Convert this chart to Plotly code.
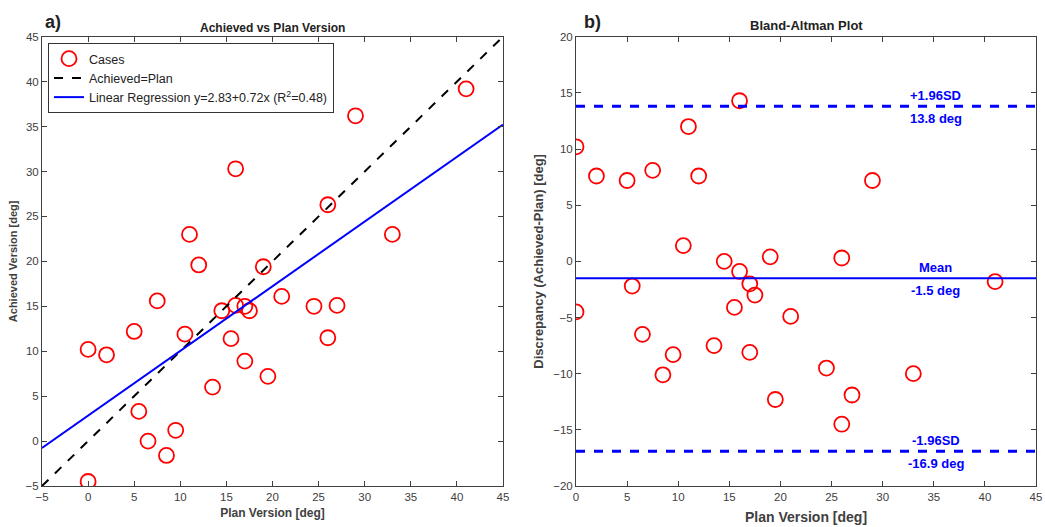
import plotly.graph_objects as go

# ---- data ----
plan = [29, 41, 16, 26, 11, 33, 12, 19, 7.5, 21, 24.5, 27, 14.5, 16, 17, 17.5,
        5, 10.5, 0, 2, 15.5, 26, 17, 19.5, 13.5, 5.5, 9.5, 6.5, 8.5, 0]
achieved = [36.2, 39.2, 30.3, 26.3, 23, 23, 19.6, 19.4, 15.6, 16.1, 15, 15.1, 14.5, 15.1, 15, 14.5,
            12.2, 11.9, 10.2, 9.6, 11.4, 11.5, 8.9, 7.2, 6.0, 3.3, 1.2, 0, -1.6, -4.5]
discrepancy = [7.2, -1.8, 14.3, 0.3, 12, -10, 7.6, 0.4, 8.1, -4.9, -9.5, -11.9, 0, -0.9, -2, -3,
               7.2, 1.4, 10.2, 7.6, -4.1, -14.5, -8.1, -12.3, -7.5, -2.2, -8.3, -6.5, -10.1, -4.5]
reg_intercept = 2.83
reg_slope = 0.72
reg_r2 = 0.48
mean_disc = -1.5
upper_loa = 13.8
lower_loa = -16.9
left_range = [-5, 45]
right_x_range = [0, 45]
right_y_range = [-20, 20]

FONT = "Arial, Liberation Sans, sans-serif"
AX = "#404040"
W, H = 1045, 527

fig = go.Figure()

# left panel
fig.add_trace(go.Scatter(x=plan, y=achieved, mode="markers", name="Cases",
                         marker=dict(symbol="circle-open", size=15, color="red", line=dict(width=1.8, color="red")),
                         xaxis="x", yaxis="y"))
fig.add_trace(go.Scatter(x=left_range, y=left_range, mode="lines", name="Achieved=Plan",
                         line=dict(color="black", dash="dash", width=2), xaxis="x", yaxis="y"))
fig.add_trace(go.Scatter(x=left_range, y=[reg_intercept + reg_slope * v for v in left_range], mode="lines",
                         name=f"Linear Regression y={reg_intercept}+{reg_slope}x (R<sup>2</sup>={reg_r2})",
                         line=dict(color="blue", width=2), xaxis="x", yaxis="y"))

# right panel
fig.add_trace(go.Scatter(x=plan, y=discrepancy, mode="markers", showlegend=False,
                         marker=dict(symbol="circle-open", size=15, color="red", line=dict(width=1.8, color="red")),
                         xaxis="x2", yaxis="y2"))
fig.add_trace(go.Scatter(x=right_x_range, y=[mean_disc, mean_disc], mode="lines", showlegend=False,
                         line=dict(color="blue", width=2), xaxis="x2", yaxis="y2"))
for v in (upper_loa, lower_loa):
    fig.add_trace(go.Scatter(x=right_x_range, y=[v, v], mode="lines", showlegend=False,
                             line=dict(color="blue", width=3, dash="dash"), xaxis="x2", yaxis="y2"))

xL = [42 / W, 503 / W]
xR = [576 / W, 1036 / W]
yD = [1 - 486 / H, 1 - 36.7 / H]

def axis(rng, dom, anchor, dtick, title, tsize, standoff):
    return dict(range=rng, domain=dom, anchor=anchor, dtick=dtick, tick0=0, automargin=False,
                showline=True, linecolor=AX, linewidth=1, mirror="ticks",
                ticks="inside", ticklen=5, tickcolor=AX, showgrid=False, zeroline=False,
                tickfont=dict(family=FONT, size=11.5, color=AX),
                title=dict(text=title, font=dict(family=FONT, size=tsize, color=AX, weight="bold"), standoff=standoff))

fig.update_layout(
    width=W, height=H, margin=dict(l=0, r=0, t=0, b=0, autoexpand=False),
    paper_bgcolor="white", plot_bgcolor="white",
    xaxis=axis(left_range, xL, "y", 5, "Plan Version [deg]", 12, 6),
    yaxis=axis(left_range, yD, "x", 5, "Achieved Version [deg]", 11, 5),
    xaxis2=axis(right_x_range, xR, "y2", 5, "Plan Version [deg]", 14, 10),
    yaxis2=axis(right_y_range, yD, "x2", 5, "Discrepancy (Achieved-Plan) [deg]", 13, 6),
    legend=dict(x=48 / W, y=1 - 43 / H, xanchor="left", yanchor="top",
                bgcolor="white", bordercolor="#333333", borderwidth=1, itemwidth=30,
                font=dict(family=FONT, size=12.5, color="#222"), tracegroupgap=0),
    showlegend=True,
)

ann = [
    dict(text="Achieved vs Plan Version", x=(xL[0] + xL[1]) / 2, y=1 - 28 / H, xref="paper", yref="paper",
         xanchor="center", yanchor="middle", showarrow=False,
         font=dict(family=FONT, size=12, color="#222", weight="bold")),
    dict(text="Bland-Altman Plot", x=(xR[0] + xR[1]) / 2, y=1 - 26 / H, xref="paper", yref="paper",
         xanchor="center", yanchor="middle", showarrow=False,
         font=dict(family=FONT, size=13, color="#222", weight="bold")),
    dict(text="a)", x=43 / W, y=1 - 22 / H, xref="paper", yref="paper", xanchor="left", yanchor="middle",
         showarrow=False, font=dict(family=FONT, size=18, color="#222", weight="bold")),
    dict(text="b)", x=582 / W, y=1 - 22 / H, xref="paper", yref="paper", xanchor="left", yanchor="middle",
         showarrow=False, font=dict(family=FONT, size=18, color="#222", weight="bold")),
]
for val, top, bottom in ((upper_loa, "+1.96SD", f"{upper_loa} deg"),
                         (mean_disc, "Mean", f"{mean_disc} deg"),
                         (lower_loa, "-1.96SD", f"{lower_loa} deg")):
    ann.append(dict(text=top, x=35.2, y=val, xref="x2", yref="y2", yshift=11, showarrow=False,
                    font=dict(family=FONT, size=13, color="blue", weight="bold")))
    ann.append(dict(text=bottom, x=35.2, y=val, xref="x2", yref="y2", yshift=-12, showarrow=False,
                    font=dict(family=FONT, size=13, color="blue", weight="bold")))
fig.update_layout(annotations=ann)

fig.write_html("out.html", config={"displayModeBar": False},
               post_script="document.body.style.margin='0px';document.body.style.overflow='hidden';")
